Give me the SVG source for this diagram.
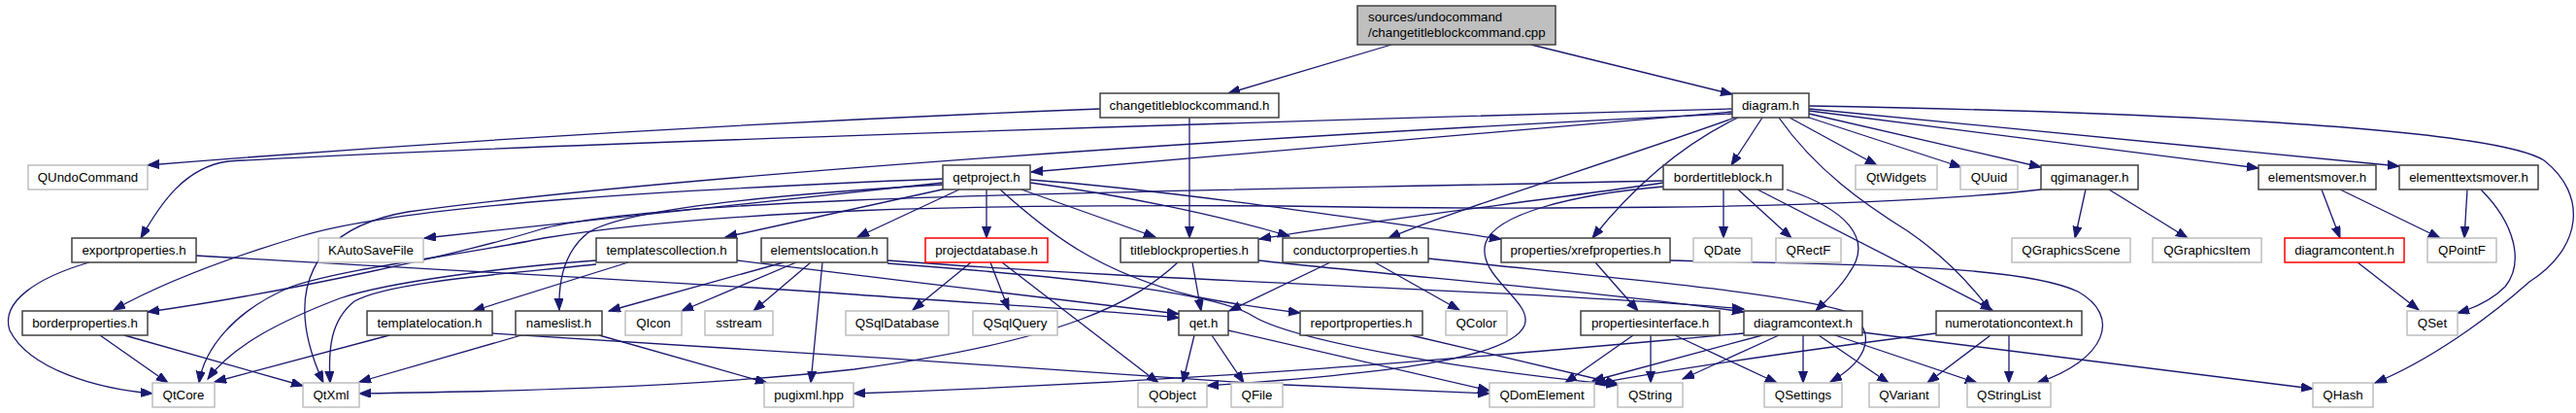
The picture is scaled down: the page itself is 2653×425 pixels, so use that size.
<svg xmlns="http://www.w3.org/2000/svg" width="2653" height="425" viewBox="0 0 2653 425">
<defs>
<marker id="a" markerWidth="14" markerHeight="10" refX="12" refY="4.5" orient="auto" markerUnits="userSpaceOnUse"><path d="M0,0 L12,4.5 L0,9 z" fill="#191970" stroke="#191970" stroke-width="1"/></marker>
<style>
rect{fill:#fff;stroke-width:1.5}
.n rect{stroke:#404040}
.x rect{stroke:#bfbfbf}
.r rect{stroke:#ff0000}
text{font-family:"Liberation Sans",Arial,sans-serif;font-size:13.3px;fill:#000;text-anchor:middle}
#edges path{fill:none;stroke:#191970;stroke-width:1.3;marker-end:url(#a)}
</style>
</defs>
<rect x="0" y="0" width="2653" height="425" style="fill:#fff;stroke:none"/>
<g id="edges">
<path d="M1433,46 L1265,96"/>
<path d="M1577,46 L1784,97"/>
<path d="M1133,112 C800,125 450,146 152,170"/>
<path d="M1225,121 L1225,245"/>
<path d="M1784,115 L1062,177"/>
<path d="M1784,112 C1300,125 500,150 235,166 C190,172 165,210 145,245"/>
<path d="M1784,117 C1300,140 700,180 420,218 C320,235 290,300 333,394"/>
<path d="M1815,121 L1783,170"/>
<path d="M1843,121 L1933,170"/>
<path d="M1860,120 L2020,172"/>
<path d="M1863,117 L2102,172"/>
<path d="M1863,114 L2326,173"/>
<path d="M1863,112 L2471,171"/>
<path d="M1863,109 C2150,114 2560,128 2620,165 C2665,200 2660,255 2605,290 C2560,330 2500,372 2446,394"/>
<path d="M1787,121 C1650,170 1500,215 1430,245"/>
<path d="M1790,121 C1730,150 1680,195 1640,245"/>
<path d="M1832,121 C1870,175 1920,210 1965,238 C2000,262 2030,293 2050,320"/>
<path d="M971,188 L437,245"/>
<path d="M971,184 C700,195 420,210 310,243 C220,270 160,295 117,319"/>
<path d="M971,190 C800,200 640,215 605,240 C580,260 575,290 576,319"/>
<path d="M975,194 L747,244"/>
<path d="M988,195 L883,244"/>
<path d="M1016,195 L1016,245"/>
<path d="M1052,195 L1190,244"/>
<path d="M1061,188 C1150,200 1250,220 1328,243"/>
<path d="M1061,185 C1200,195 1400,225 1546,246"/>
<path d="M1030,195 C1080,240 1130,280 1230,305 C1280,315 1310,318 1339,322"/>
<path d="M1000,270 L940,319"/>
<path d="M1020,270 L1039,319"/>
<path d="M1032,270 L1193,394"/>
<path d="M1228,270 L1237,320"/>
<path d="M1213,270 C1170,310 1100,350 880,380 C700,400 500,403 370,405"/>
<path d="M1296,268 C1450,285 1650,300 1796,321"/>
<path d="M1713,188 C1600,205 1400,228 1297,246"/>
<path d="M1713,186 C1200,198 700,200 560,235 C480,260 300,300 152,321"/>
<path d="M1713,192 C1620,200 1540,220 1530,250 C1520,285 1580,310 1570,335 C1555,370 1420,385 1243,397"/>
<path d="M1775,195 L1775,245"/>
<path d="M1790,195 L1845,245"/>
<path d="M1840,195 C1900,215 1930,245 1905,280 C1895,297 1880,310 1870,320"/>
<path d="M1810,195 L2052,319"/>
<path d="M2148,195 L2137,245"/>
<path d="M2172,195 L2253,245"/>
<path d="M2102,195 C1900,218 1500,215 1320,212 C1000,210 750,215 560,245 C480,262 360,275 300,295 C240,320 210,360 205,394"/>
<path d="M2391,195 L2410,245"/>
<path d="M2410,195 L2513,245"/>
<path d="M2541,195 L2538,245"/>
<path d="M2555,195 C2590,230 2600,270 2580,295 C2565,310 2545,318 2531,322"/>
<path d="M2428,270 L2491,319"/>
<path d="M92,270 C40,285 0,310 10,340 C30,380 100,400 157,405"/>
<path d="M202,263 C400,275 700,290 880,303 C1000,312 1150,320 1214,327"/>
<path d="M103,345 L173,394"/>
<path d="M128,345 L312,397"/>
<path d="M647,270 L487,320"/>
<path d="M614,268 C520,275 400,290 350,307 C290,330 240,355 214,390"/>
<path d="M614,272 C520,282 400,290 365,310 C340,330 338,360 340,394"/>
<path d="M759,268 C900,285 1100,310 1214,323"/>
<path d="M401,345 L221,393"/>
<path d="M507,343 C700,355 1100,380 1300,395 C1400,400 1480,403 1534,405"/>
<path d="M537,345 L370,393"/>
<path d="M617,345 L790,394"/>
<path d="M807,270 L627,320"/>
<path d="M820,270 L702,320"/>
<path d="M835,270 L776,320"/>
<path d="M847,270 L835,394"/>
<path d="M914,268 C1200,290 1600,300 1796,318"/>
<path d="M914,271 C1100,285 1250,300 1290,325 C1330,350 1500,380 1666,396"/>
<path d="M1230,345 L1218,394"/>
<path d="M1248,345 L1281,394"/>
<path d="M1265,340 L1534,402"/>
<path d="M1370,270 L1266,320"/>
<path d="M1416,270 L1503,319"/>
<path d="M1471,266 C1650,285 1830,300 1900,320 C1935,340 1925,370 1885,393"/>
<path d="M1643,270 L1687,320"/>
<path d="M1720,268 C1900,272 2080,272 2140,300 C2185,325 2170,370 2098,394"/>
<path d="M1682,345 L1612,394"/>
<path d="M1700,345 L1700,394"/>
<path d="M1725,345 L1830,394"/>
<path d="M1857,345 L1857,394"/>
<path d="M1873,345 L1945,394"/>
<path d="M1890,345 L2036,394"/>
<path d="M1918,342 L2382,400"/>
<path d="M1832,345 L1733,390"/>
<path d="M1815,345 L1640,392"/>
<path d="M1796,343 C1600,360 1300,390 879,405"/>
<path d="M2050,345 L1985,394"/>
<path d="M2069,345 L2069,394"/>
<path d="M1994,343 C1900,355 1750,375 1642,395"/>
<path d="M1453,345 L1666,395"/>
</g>
<g id="root" class="n"><rect x="1398" y="6" width="204" height="40" style="fill:#bfbfbf"/><text x="1409" y="22" style="text-anchor:start">sources/undocommand</text><text x="1409" y="38" style="text-anchor:start">/changetitleblockcommand.cpp</text></g>
<g id="changetitleblockcommand_h" class="n"><rect x="1133" y="96" width="184" height="25"/><text x="1225" y="113">changetitleblockcommand.h</text></g>
<g id="diagram_h" class="n"><rect x="1784" y="96" width="79" height="25"/><text x="1823.5" y="113">diagram.h</text></g>
<g id="QUndoCommand" class="x"><rect x="29" y="170" width="123" height="25"/><text x="90.5" y="187">QUndoCommand</text></g>
<g id="qetproject_h" class="n"><rect x="971" y="170" width="90" height="25"/><text x="1016" y="187">qetproject.h</text></g>
<g id="bordertitleblock_h" class="n"><rect x="1713" y="170" width="123" height="25"/><text x="1774.5" y="187">bordertitleblock.h</text></g>
<g id="QtWidgets" class="x"><rect x="1911" y="170" width="84" height="25"/><text x="1953" y="187">QtWidgets</text></g>
<g id="QUuid" class="x"><rect x="2019" y="170" width="59" height="25"/><text x="2048.5" y="187">QUuid</text></g>
<g id="qgimanager_h" class="n"><rect x="2102" y="170" width="100" height="25"/><text x="2152" y="187">qgimanager.h</text></g>
<g id="elementsmover_h" class="n"><rect x="2326" y="170" width="121" height="25"/><text x="2386.5" y="187">elementsmover.h</text></g>
<g id="elementtextsmover_h" class="n"><rect x="2471" y="170" width="143" height="25"/><text x="2542.5" y="187">elementtextsmover.h</text></g>
<g id="exportproperties_h" class="n"><rect x="74" y="245" width="128" height="25"/><text x="138" y="262">exportproperties.h</text></g>
<g id="KAutoSaveFile" class="x"><rect x="328" y="245" width="108" height="25"/><text x="382" y="262">KAutoSaveFile</text></g>
<g id="templatescollection_h" class="n"><rect x="614" y="245" width="145" height="25"/><text x="686.5" y="262">templatescollection.h</text></g>
<g id="elementslocation_h" class="n"><rect x="784" y="245" width="130" height="25"/><text x="849" y="262">elementslocation.h</text></g>
<g id="projectdatabase_h" class="r"><rect x="953" y="245" width="126" height="25"/><text x="1016" y="262">projectdatabase.h</text></g>
<g id="titleblockproperties_h" class="n"><rect x="1154" y="245" width="142" height="25"/><text x="1225" y="262">titleblockproperties.h</text></g>
<g id="conductorproperties_h" class="n"><rect x="1321" y="245" width="150" height="25"/><text x="1396" y="262">conductorproperties.h</text></g>
<g id="xrefproperties_h" class="n"><rect x="1546" y="245" width="174" height="25"/><text x="1633" y="262">properties/xrefproperties.h</text></g>
<g id="QDate" class="x"><rect x="1744" y="245" width="60" height="25"/><text x="1774" y="262">QDate</text></g>
<g id="QRectF" class="x"><rect x="1829" y="245" width="67" height="25"/><text x="1862.5" y="262">QRectF</text></g>
<g id="QGraphicsScene" class="x"><rect x="2072" y="245" width="122" height="25"/><text x="2133" y="262">QGraphicsScene</text></g>
<g id="QGraphicsItem" class="x"><rect x="2217" y="245" width="112" height="25"/><text x="2273" y="262">QGraphicsItem</text></g>
<g id="diagramcontent_h" class="r"><rect x="2353" y="245" width="123" height="25"/><text x="2414.5" y="262">diagramcontent.h</text></g>
<g id="QPointF" class="x"><rect x="2500" y="245" width="71" height="25"/><text x="2535.5" y="262">QPointF</text></g>
<g id="borderproperties_h" class="n"><rect x="23" y="320" width="129" height="25"/><text x="87.5" y="337">borderproperties.h</text></g>
<g id="templatelocation_h" class="n"><rect x="378" y="320" width="129" height="25"/><text x="442.5" y="337">templatelocation.h</text></g>
<g id="nameslist_h" class="n"><rect x="531" y="320" width="89" height="25"/><text x="575.5" y="337">nameslist.h</text></g>
<g id="QIcon" class="x"><rect x="644" y="320" width="58" height="25"/><text x="673" y="337">QIcon</text></g>
<g id="sstream" class="x"><rect x="726" y="320" width="70" height="25"/><text x="761" y="337">sstream</text></g>
<g id="QSqlDatabase" class="x"><rect x="871" y="320" width="106" height="25"/><text x="924" y="337">QSqlDatabase</text></g>
<g id="QSqlQuery" class="x"><rect x="1002" y="320" width="87" height="25"/><text x="1045.5" y="337">QSqlQuery</text></g>
<g id="qet_h" class="n"><rect x="1214" y="320" width="51" height="25"/><text x="1239.5" y="337">qet.h</text></g>
<g id="reportproperties_h" class="n"><rect x="1339" y="320" width="126" height="25"/><text x="1402" y="337">reportproperties.h</text></g>
<g id="QColor" class="x"><rect x="1489" y="320" width="63" height="25"/><text x="1520.5" y="337">QColor</text></g>
<g id="propertiesinterface_h" class="n"><rect x="1628" y="320" width="143" height="25"/><text x="1699.5" y="337">propertiesinterface.h</text></g>
<g id="diagramcontext_h" class="n"><rect x="1796" y="320" width="122" height="25"/><text x="1857" y="337">diagramcontext.h</text></g>
<g id="numerotationcontext_h" class="n"><rect x="1994" y="320" width="150" height="25"/><text x="2069" y="337">numerotationcontext.h</text></g>
<g id="QSet" class="x"><rect x="2479" y="320" width="52" height="25"/><text x="2505" y="337">QSet</text></g>
<g id="QtCore" class="x"><rect x="157" y="394" width="64" height="25"/><text x="189" y="411">QtCore</text></g>
<g id="QtXml" class="x"><rect x="312" y="394" width="58" height="25"/><text x="341" y="411">QtXml</text></g>
<g id="pugixml_hpp" class="x"><rect x="787" y="394" width="92" height="25"/><text x="833" y="411">pugixml.hpp</text></g>
<g id="QObject" class="x"><rect x="1172" y="394" width="71" height="25"/><text x="1207.5" y="411">QObject</text></g>
<g id="QFile" class="x"><rect x="1268" y="394" width="53" height="25"/><text x="1294.5" y="411">QFile</text></g>
<g id="QDomElement" class="x"><rect x="1534" y="394" width="108" height="25"/><text x="1588" y="411">QDomElement</text></g>
<g id="QString" class="x"><rect x="1666" y="394" width="67" height="25"/><text x="1699.5" y="411">QString</text></g>
<g id="QSettings" class="x"><rect x="1817" y="394" width="80" height="25"/><text x="1857" y="411">QSettings</text></g>
<g id="QVariant" class="x"><rect x="1925" y="394" width="72" height="25"/><text x="1961" y="411">QVariant</text></g>
<g id="QStringList" class="x"><rect x="2026" y="394" width="86" height="25"/><text x="2069" y="411">QStringList</text></g>
<g id="QHash" class="x"><rect x="2382" y="394" width="62" height="25"/><text x="2413" y="411">QHash</text></g>
</svg>
